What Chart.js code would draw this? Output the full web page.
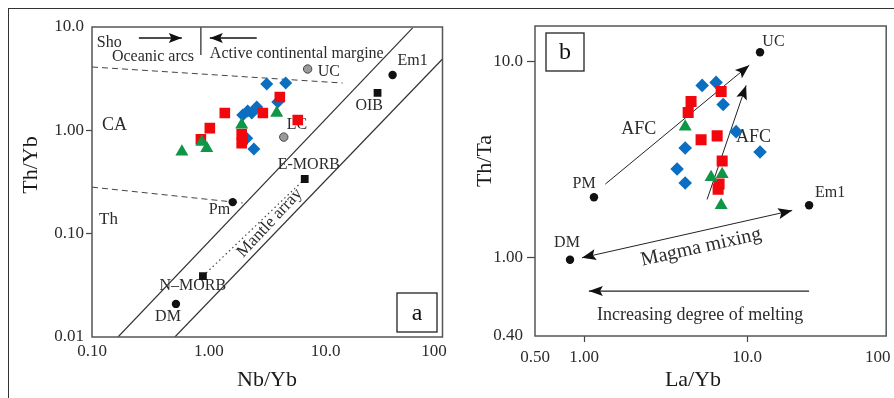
<!DOCTYPE html>
<html>
<head>
<meta charset="utf-8">
<script src="https://cdn.jsdelivr.net/npm/chart.js@4.4.1/dist/chart.umd.min.js"></script>
<style>
html,body{margin:0;padding:0;background:#fff;}
#wrap{position:relative;width:894px;height:398px;overflow:hidden;}
#frame{position:absolute;left:8px;top:8px;width:900px;height:400px;border-left:1.5px solid #333;border-top:1.5px solid #333;}
#ca{position:absolute;left:0;top:0;}
#cb{position:absolute;left:450px;top:0;}
</style>
</head>
<body>
<div id="wrap">
<div id="frame"></div>
<canvas id="ca" width="450" height="398"></canvas>
<canvas id="cb" width="444" height="398"></canvas>
</div>
<script>
// ===================== Panel a : Th/Yb vs Nb/Yb =====================
const aXTicks = [0.1, 1, 10, 100];
const aXTickLabels = ['0.10', '1.00', '10.0', '100'];
const aYTicks = [0.01, 0.1, 1, 10];
const aYTickLabels = ['0.01', '0.10', '1.00', '10.0'];

const aDiamondX = [3.13, 4.55, 3.89, 1.95, 2.15, 2.33, 2.57, 2.11, 2.43];
const aDiamondY = [2.81, 2.87, 1.88, 1.41, 1.54, 1.47, 1.68, 0.84, 0.66];
const aSquareX  = [4.05, 1.37, 2.90, 5.77, 1.02, 0.855, 1.91, 1.95, 1.91];
const aSquareY  = [2.10, 1.47, 1.47, 1.26, 1.05, 0.82, 0.92, 0.82, 0.75];
const aTriX     = [0.588, 0.871, 0.96, 1.91, 3.81];
const aTriY     = [0.62, 0.77, 0.67, 1.13, 1.47];
// reference compositions
const aGreyNames = ['UC', 'LC'];
const aGreyX = [7.01, 4.38];
const aGreyY = [3.92, 0.86];
const aBlackCircleNames = ['Em1', 'Pm', 'DM'];
const aBlackCircleX = [37.4, 1.60, 0.523];
const aBlackCircleY = [3.43, 0.202, 0.0209];
const aBlackSquareNames = ['OIB', 'E-MORB', 'N-MORB'];
const aBlackSquareX = [27.8, 6.62, 0.89];
const aBlackSquareY = [2.30, 0.338, 0.0389];
// boundary lines [x0,y0,x1,y1]
const aMantleUpper = [0.167, 0.01, 55.5, 9.8];
const aMantleLower = [0.512, 0.01, 100, 4.9];
const aDashUpper = [0.1, 4.10, 13.97, 2.87];
const aDashLower = [0.1, 0.282, 1.95, 0.198];
const aMorbDotted = [0.89, 0.0389, 6.62, 0.338];
const aArrowRight = [0.252, 7.83, 0.587, 7.83];
const aArrowLeft = [2.57, 7.83, 1.02, 7.83];
const aDivider = [0.855, 10, 0.855, 5.36];

const aLabels = [
  ['Sho', 0.110, 7.0], ['Oceanic arcs', 0.148, 5.13], ['Active continental margine', 1.02, 5.48],
  ['UC', 8.55, 3.67], ['Em1', 41.2, 4.69], ['OIB', 18.0, 1.72], ['CA', 0.122, 1.13],
  ['LC', 4.64, 1.13], ['E-MORB', 3.89, 0.461], ['Pm', 1.0, 0.169], ['Th', 0.115, 0.138],
  ['N\u2013MORB', 0.729, 0.0311], ['DM', 0.447, 0.0156], ['Mantle array', 3.32, 0.127]
];

// ===================== Panel b : Th/Ta vs La/Yb =====================
const bXTicks = [0.5, 1, 10, 100];
const bXTickLabels = ['0.50', '1.00', '10.0', '100'];
const bYTicks = [0.4, 1, 10];
const bYTickLabels = ['0.40', '1.00', '10.0'];

const bDiamondX = [5.30, 6.45, 7.13, 8.56, 12.0, 4.17, 3.72, 4.17];
const bDiamondY = [7.53, 7.80, 6.02, 4.38, 3.45, 3.62, 2.83, 2.40];
const bSquareX  = [6.93, 4.53, 4.35, 5.22, 6.55, 7.03, 6.73, 6.64];
const bSquareY  = [7.02, 6.24, 5.48, 3.98, 4.17, 3.11, 2.37, 2.23];
const bTriX     = [4.17, 6.01, 7.03, 6.93];
const bTriY     = [4.64, 2.57, 2.66, 1.85];
const bRefNames = ['UC', 'PM', 'Em1', 'DM'];
const bRefX = [12.0, 1.15, 24.0, 0.82];
const bRefY = [11.1, 2.03, 1.85, 0.977];
const bAfc1 = [1.35, 2.37, 10.3, 9.54];
const bAfc2 = [5.68, 1.98, 9.86, 7.53];
const bMixing = [0.97, 1.0, 18.9, 1.74];
const bMelting = [24.0, 0.677, 1.07, 0.677];

const bLabels = [
  ['UC', 12.4, 12.5], ['AFC', 1.69, 4.53], ['AFC', 8.56, 4.12], ['PM', 1.0, 2.37],
  ['Em1', 26.1, 2.15], ['DM', 0.655, 1.19], ['Magma mixing', 5.22, 1.13],
  ['Increasing degree of melting', 5.15, 0.510]
];

// ===================== helpers =====================
const SERIF = "'Liberation Serif', 'Times New Roman', serif";
const TXT = '#2b2b2b';
const BLUE = '#0a6fc2', RED = '#f2070d', GREEN = '#0f9646';

function pts(xs, ys) { return xs.map((x, i) => ({x: x, y: ys[i]})); }
function seg(a) { return [{x: a[0], y: a[1]}, {x: a[2], y: a[3]}]; }

function markerSet(xs, ys, style, color, r, order, border) {
  return {data: pts(xs, ys), pointStyle: style, pointRadius: r, pointHoverRadius: r,
    backgroundColor: color, borderColor: border || color, pointBorderWidth: border ? 1 : 0,
    borderWidth: border ? 1 : 0, showLine: false, order: order};
}
function lineSet(a, opts) {
  return Object.assign({data: seg(a), showLine: true, pointRadius: 0, pointHoverRadius: 0,
    borderColor: '#333', borderWidth: 1.2, fill: false, order: 20}, opts || {});
}

function logAxis(min, max, ticks, labels, o) {
  return {
    type: 'logarithmic', min: min, max: max,
    afterBuildTicks: function (s) { s.ticks = ticks.map(v => ({value: Math.min(v, max)})); },
    afterFit: function (s) {
      if (o.width) s.width = o.width;
      if (o.height) s.height = o.height;
      s.paddingLeft = 0; s.paddingRight = 0; s.paddingTop = 0; s.paddingBottom = 0;
    },
    ticks: {
      autoSkip: false, maxRotation: 0, minRotation: 0, padding: o.pad, color: TXT,
      font: {family: SERIF, size: 17},
      callback: function (v, i) {
        // the last x label sits slightly inside the axis end, as in the source figure
        return (o.shiftLast && i === labels.length - 1) ? labels[i] + '\u2007\u2007' : labels[i];
      }
    },
    grid: {display: true, drawOnChartArea: false, drawTicks: o.tickLen > 0, tickLength: o.tickLen,
      tickWidth: 1.2,
      tickColor: function (c) { return (c.tick && o.marks.indexOf(c.index) >= 0) ? '#444' : 'rgba(0,0,0,0)'; },
      color: 'rgba(0,0,0,0)'},
    border: {display: false},
    title: {display: false}
  };
}

const decorPlugin = {
  id: 'decor',
  beforeDatasetsDraw: function (chart, args, opt) {
    const ctx = chart.ctx, xs = chart.scales.x, ys = chart.scales.y;
    ctx.save();
    ctx.fillStyle = TXT;
    opt.labels.forEach(function (l) {
      const st = opt.styles[l[0]] || {};
      const px = xs.getPixelForValue(l[1]), py = ys.getPixelForValue(l[2]);
      ctx.save();
      ctx.translate(px, py);
      if (st.rot) ctx.rotate(st.rot * Math.PI / 180);
      ctx.font = (st.size || 16) + 'px ' + SERIF;
      ctx.textAlign = st.align || 'left';
      ctx.textBaseline = 'middle';
      ctx.fillText(l[0], 0, 0);
      ctx.restore();
    });
    ctx.restore();
  },
  afterDatasetsDraw: function (chart, args, opt) {
    const ctx = chart.ctx, xs = chart.scales.x, ys = chart.scales.y;
    ctx.save();
    // arrow heads
    chart.data.datasets.forEach(function (ds) {
      if (!ds.arrow) return;
      const p0 = {x: xs.getPixelForValue(ds.data[0].x), y: ys.getPixelForValue(ds.data[0].y)};
      const p1 = {x: xs.getPixelForValue(ds.data[1].x), y: ys.getPixelForValue(ds.data[1].y)};
      const heads = ds.arrow === 'both' ? [[p1, p0], [p0, p1]] : [[p1, p0]];
      heads.forEach(function (h) {
        const tip = h[0], from = h[1];
        const ang = Math.atan2(tip.y - from.y, tip.x - from.x);
        const L = ds.headLen || 12, W = ds.headWidth || 4.5;
        ctx.beginPath();
        ctx.moveTo(tip.x, tip.y);
        ctx.lineTo(tip.x - L * Math.cos(ang) + W * Math.sin(ang), tip.y - L * Math.sin(ang) - W * Math.cos(ang));
        ctx.lineTo(tip.x - L * 0.8 * Math.cos(ang), tip.y - L * 0.8 * Math.sin(ang));
        ctx.lineTo(tip.x - L * Math.cos(ang) - W * Math.sin(ang), tip.y - L * Math.sin(ang) + W * Math.cos(ang));
        ctx.closePath();
        ctx.fillStyle = '#111';
        ctx.fill();
      });
    });
    // panel letter box
    const b = opt.box;
    ctx.fillStyle = '#fff';
    ctx.fillRect(b.x, b.y, b.w, b.h);
    ctx.strokeStyle = '#222';
    ctx.lineWidth = 1.3;
    ctx.strokeRect(b.x, b.y, b.w, b.h);
    ctx.fillStyle = '#111';
    ctx.font = '24px ' + SERIF;
    ctx.textAlign = 'center';
    ctx.textBaseline = 'middle';
    ctx.fillText(b.text, b.x + b.w / 2, b.y + b.h / 2 + 1);
    // plot frame
    const ca = chart.chartArea;
    ctx.strokeStyle = '#555';
    ctx.lineWidth = 1.5;
    ctx.strokeRect(ca.left, ca.top, ca.right - ca.left, ca.bottom - ca.top);
    // axis titles
    ctx.fillStyle = '#1a1a1a';
    ctx.font = '22px ' + SERIF;
    ctx.textAlign = 'center';
    ctx.textBaseline = 'middle';
    ctx.fillText(opt.xTitle.text, opt.xTitle.x, opt.xTitle.y);
    ctx.save();
    ctx.translate(opt.yTitle.x, opt.yTitle.y);
    ctx.rotate(-Math.PI / 2);
    ctx.fillText(opt.yTitle.text, 0, 0);
    ctx.restore();
    ctx.restore();
  }
};

const baseOpts = {
  responsive: false, animation: false, devicePixelRatio: 1,
  plugins: {legend: {display: false}, tooltip: {enabled: false}},
  events: []
};

// ---------- chart a ----------
new Chart(document.getElementById('ca'), {
  type: 'scatter',
  data: {datasets: [
    markerSet(aBlackCircleX, aBlackCircleY, 'circle', '#111', 4.2, 0),
    markerSet(aBlackSquareX, aBlackSquareY, 'rect', '#111', 5.5, 0),
    markerSet(aGreyX, aGreyY, 'circle', '#9a9a9a', 4.2, 0, '#444'),
    markerSet(aTriX, aTriY, 'triangle', GREEN, 7.5, 1),
    markerSet(aSquareX, aSquareY, 'rect', RED, 7.5, 2),
    markerSet(aDiamondX, aDiamondY, 'rectRot', BLUE, 6.5, 3),
    lineSet(aMantleUpper),
    lineSet(aMantleLower),
    lineSet(aDashUpper, {borderDash: [6, 4], borderWidth: 1, borderColor: '#444'}),
    lineSet(aDashLower, {borderDash: [6, 4], borderWidth: 1, borderColor: '#444'}),
    lineSet(aMorbDotted, {borderDash: [1.5, 3], borderWidth: 1.2, borderColor: '#444'}),
    lineSet(aArrowRight, {borderColor: '#111', borderWidth: 1.3, arrow: 'end', headLen: 13, headWidth: 5}),
    lineSet(aArrowLeft, {borderColor: '#111', borderWidth: 1.3, arrow: 'end', headLen: 13, headWidth: 5}),
    lineSet(aDivider, {borderColor: '#222', borderWidth: 1.2})
  ]},
  options: Object.assign({}, baseOpts, {
    layout: {padding: {left: 0, top: 27, right: 7, bottom: 0}},
    scales: {
      x: logAxis(0.1, 100, aXTicks, aXTickLabels, {height: 61, pad: 4, tickLen: 0, marks: [], shiftLast: true}),
      y: logAxis(0.01, 10, aYTicks, aYTickLabels, {width: 92, pad: 2, tickLen: 6, marks: [1, 2]})
    },
    plugins: Object.assign({}, baseOpts.plugins, {
      decor: {
        labels: aLabels,
        styles: {
          'CA': {size: 18}, 'Th': {size: 17},
          'N\u2013MORB': {align: 'center'}, 'DM': {align: 'center'},
          'Mantle array': {align: 'center', size: 17, rot: -47}
        },
        box: {x: 397, y: 293, w: 40, h: 39, text: 'a'},
        xTitle: {text: 'Nb/Yb', x: 267, y: 380},
        yTitle: {text: 'Th/Yb', x: 31, y: 165}
      }
    })
  }),
  plugins: [decorPlugin]
});

// ---------- chart b ----------
new Chart(document.getElementById('cb'), {
  type: 'scatter',
  data: {datasets: [
    markerSet(bRefX, bRefY, 'circle', '#111', 4.2, 0),
    markerSet(bTriX, bTriY, 'triangle', GREEN, 7.5, 1),
    markerSet(bSquareX, bSquareY, 'rect', RED, 7.8, 2),
    markerSet(bDiamondX, bDiamondY, 'rectRot', BLUE, 6.8, 3),
    lineSet(bAfc1, {borderColor: '#222', borderWidth: 1, arrow: 'end', headLen: 14, headWidth: 5.5}),
    lineSet(bAfc2, {borderColor: '#222', borderWidth: 1, arrow: 'end', headLen: 14, headWidth: 5.5}),
    lineSet(bMixing, {borderColor: '#222', borderWidth: 1, arrow: 'both', headLen: 14, headWidth: 5.5}),
    lineSet(bMelting, {borderColor: '#222', borderWidth: 1.3, arrow: 'end', headLen: 14, headWidth: 5})
  ]},
  options: Object.assign({}, baseOpts, {
    layout: {padding: {left: 0, top: 26, right: 7, bottom: 0}},
    scales: {
      x: logAxis(0.5, 71.3, bXTicks, bXTickLabels, {height: 62, pad: 5, tickLen: 6, marks: [1, 2], shiftLast: true}),
      y: logAxis(0.4, 15.1, bYTicks, bYTickLabels, {width: 85, pad: 4, tickLen: 8, marks: [1, 2]})
    },
    plugins: Object.assign({}, baseOpts.plugins, {
      decor: {
        labels: bLabels,
        styles: {
          'AFC': {size: 18}, 'PM': {align: 'center'},
          'Magma mixing': {align: 'center', size: 20, rot: -12.5},
          'Increasing degree of melting': {align: 'center', size: 18}
        },
        box: {x: 96, y: 33, w: 38, h: 38, text: 'b'},
        xTitle: {text: 'La/Yb', x: 243, y: 380},
        yTitle: {text: 'Th/Ta', x: 35, y: 161}
      }
    })
  }),
  plugins: [decorPlugin]
});
</script>
</body>
</html>
